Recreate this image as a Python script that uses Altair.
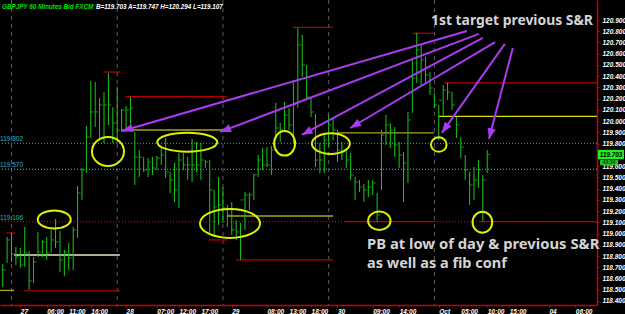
import math
import altair as alt
import pandas as pd

# ---------------- data ----------------
bar_index = list(range(1, 112))
highs = [118.729, 118.969, 119.005, 118.880, 118.872, 119.058, 118.845, 118.791, 119.014, 118.943,
         118.969, 119.032, 119.130, 119.023, 118.854, 118.916, 119.058, 119.423, 119.583, 119.957,
         120.357, 120.348, 120.206, 120.259, 120.429, 120.126, 120.304, 120.108, 120.135, 120.215,
         119.904, 119.743, 119.681, 119.672, 119.681, 119.690, 119.761, 119.850, 119.548, 119.628,
         119.717, 119.717, 119.681, 119.841, 119.815, 119.806, 119.654, 119.654, 119.388, 119.503,
         119.414, 119.254, 119.281, 119.121, 119.094, 119.370, 119.361, 119.530, 119.699, 119.761,
         119.770, 119.779, 120.162, 119.984, 120.171, 120.117, 120.366, 120.829, 120.767, 120.500,
         120.215, 120.064, 119.806, 119.877, 120.055, 120.037, 119.921, 119.815, 119.761, 119.717,
         119.503, 119.477, 119.441, 119.477, 119.477, 119.361, 119.921, 120.055, 119.984, 119.948,
         119.815, 119.726, 120.082, 120.544, 120.784, 120.678, 120.571, 120.437, 120.251, 120.144,
         120.322, 120.340, 120.259, 120.037, 119.859, 119.699, 119.548, 119.592, 119.654, 119.521,
         119.743]
lows = [118.525, 118.738, 118.747, 118.720, 118.694, 118.703, 118.498, 118.560, 118.791, 118.791,
        118.765, 118.827, 118.872, 118.658, 118.622, 118.676, 118.676, 118.960, 119.299, 119.539,
        119.850, 119.948, 119.850, 119.806, 119.966, 119.806, 119.806, 119.904, 119.904, 119.921,
        119.432, 119.503, 119.548, 119.503, 119.521, 119.566, 119.610, 119.494, 119.361, 119.281,
        119.227, 119.566, 119.477, 119.459, 119.548, 119.477, 119.583, 119.005, 118.969, 119.076,
        119.094, 119.058, 118.987, 118.943, 118.765, 119.032, 119.210, 119.299, 119.503, 119.566,
        119.592, 119.521, 119.832, 119.815, 119.921, 119.921, 119.806, 120.117, 120.393, 120.206,
        120.037, 119.592, 119.539, 119.539, 119.770, 119.832, 119.637, 119.654, 119.583, 119.477,
        119.299, 119.370, 119.281, 119.325, 119.343, 119.103, 119.388, 119.788, 119.761, 119.681,
        119.583, 119.281, 119.450, 120.073, 120.340, 120.322, 120.348, 120.233, 120.117, 119.832,
        120.037, 120.188, 120.099, 119.850, 119.672, 119.477, 119.254, 119.299, 119.405, 119.107,
        119.539]
closes = [118.676, 118.943, 118.818, 118.791, 118.720, 118.827, 118.578, 118.747, 118.836, 118.925,
          118.827, 118.943, 118.925, 118.765, 118.836, 118.783, 119.032, 119.361, 119.566, 119.859,
          120.082, 120.082, 120.144, 120.144, 120.144, 119.984, 119.921, 120.099, 120.099, 120.117,
          119.681, 119.681, 119.566, 119.637, 119.583, 119.672, 119.699, 119.548, 119.477, 119.388,
          119.654, 119.610, 119.610, 119.610, 119.610, 119.654, 119.637, 119.388, 119.236, 119.254,
          119.227, 119.165, 119.032, 119.014, 119.299, 119.343, 119.343, 119.521, 119.654, 119.610,
          119.610, 119.743, 119.939, 119.921, 120.055, 119.966, 120.144, 120.678, 120.500, 120.215,
          120.082, 119.654, 119.654, 119.832, 119.966, 119.921, 119.743, 119.726, 119.654, 119.521,
          119.459, 119.414, 119.388, 119.414, 119.450, 119.165, 119.877, 119.966, 119.921, 119.788,
          119.699, 119.628, 120.010, 120.384, 120.633, 120.544, 120.411, 120.295, 120.144, 120.188,
          120.277, 120.259, 120.144, 119.966, 119.770, 119.566, 119.432, 119.477, 119.566, 119.477,
          119.703]

day_starts = [3, 27, 51, 75, 99]

x_tick_values = [5, 11, 16, 21, 29, 36, 41, 46, 53, 61, 66, 71, 77, 85, 91, 100, 105, 111, 116, 125, 131]
x_tick_labels = ["27", "06:00", "11:00", "16:00", "28", "07:00", "12:00", "17:00", "29", "08:00",
                 "13:00", "18:00", "30", "09:00", "14:00", "Oct", "05:00", "10:00", "15:00", "04", "08:00"]

# 119.700 sits under the current-price tag in the reference
y_tick_values = [118.4, 118.5, 118.6, 118.7, 118.8, 118.9, 119.0, 119.1, 119.2, 119.3, 119.4, 119.5, 119.6,
                 119.8, 119.9, 120.0, 120.1, 120.2, 120.3, 120.4, 120.5, 120.6, 120.7, 120.8, 120.9]

level_prices = [119.802, 119.570, 119.106]
level_names = ["green", "cyan", "red"]

seg_start = [0.4, 3.6, 5.8, 1.8, 23.8, 28.8, 28.1, 47.8, 51.9, 54.0, 66.9, 77.1, 94.1, 101.2, 100.0, 78.7, 109.4]
seg_end = [3.6, 27.6, 27.6, 3.8, 27.8, 51.9, 51.7, 51.9, 76.0, 76.0, 76.0, 98.9, 98.9, 135.9, 135.9, 98.9, 135.9]
seg_price = [118.494, 118.809, 118.489, 119.005, 120.437, 120.218, 119.921, 118.943, 119.156, 118.765,
             120.835, 119.895, 120.782, 120.340, 120.042, 119.106, 119.106]
seg_kind = ["yellow", "pale", "red", "red", "red", "red", "yellow", "red", "yellow", "red",
            "red", "yellow", "red", "red", "bright", "red", "red"]

ell_x = [24.9, 12.7, 42.9, 52.6, 65.0, 75.5, 100.0, 86.5, 109.9]
ell_p = [119.730, 119.125, 119.813, 119.090, 119.803, 119.800, 119.792, 119.114, 119.101]
ell_rx = [16, 16.5, 30, 30, 10.5, 19, 7.8, 11.2, 9.8]
ell_ry = [14.5, 9, 9.5, 14.5, 12.3, 10.3, 7.2, 9.2, 10.5]

arr_x0 = [106.4, 109.1, 110.0, 112.8, 115.0, 116.8]
arr_p0 = [120.802, 120.776, 120.740, 120.704, 120.687, 120.651]
arr_x1 = [28.1, 50.4, 68.9, 79.9, 100.7, 111.4]
arr_p1 = [119.913, 119.904, 119.877, 119.939, 119.895, 119.841]

last_price = "119.703"
timer = "43:34"

# ---------------- layout ----------------
W, H = 597, 305
X_DOM = [0.387, 135.92]
Y_DOM = [118.364, 121.078]
px_x = W / (X_DOM[1] - X_DOM[0])
px_y = H / (Y_DOM[1] - Y_DOM[0])

FONT = "Liberation Sans"
RED = "#c80000"
xs = alt.Scale(domain=X_DOM, nice=False, zero=False)
ys = alt.Scale(domain=Y_DOM, nice=False, zero=False)

label_expr = "[" + ",".join("'%s'" % s for s in x_tick_labels) + "][indexof([" + \
    ",".join(str(v) for v in x_tick_values) + "], datum.value)]"

x_axis = alt.Axis(values=x_tick_values, labelExpr=label_expr, labelAlign="left", labelBaseline="top",
                  labelPadding=1, tickSize=2, tickColor=RED, domainColor=RED, domainWidth=1.5,
                  labelColor="white", labelFont=FONT, labelFontSize=6.5, labelFontStyle="italic",
                  labelFontWeight="bold", labelOverlap=False, labelBound=False, labelFlush=False,
                  grid=False, title=None)
y_axis = alt.Axis(orient="right", values=y_tick_values, format=".3f", tickSize=2, tickColor=RED,
                  domainColor=RED, domainWidth=1.5, labelColor="white", labelFont=FONT,
                  labelFontSize=6.5, labelFontStyle="italic", labelFontWeight="bold",
                  labelPadding=3, labelOverlap=False, labelBound=False, grid=False, title=None)


def X(f):
    return alt.X(f, scale=xs, axis=x_axis)


def Y(f):
    return alt.Y(f, scale=ys, axis=y_axis)


bars = pd.DataFrame({"i": bar_index, "h": highs, "l": lows, "c": closes})
base = alt.Chart(bars)

# day separators
seps = alt.Chart(pd.DataFrame({"i": day_starts})).mark_rule(
    color="#5c5c5c", strokeDash=[4, 4], strokeWidth=1).encode(x=X("i:Q"))

# full width dotted levels
lv = pd.DataFrame({"p": level_prices, "k": level_names})
LEVEL_COL = {"green": "#23a040", "cyan": "#1aa6b4", "red": "#d00000"}
levels = [alt.Chart(lv[lv.k == k]).mark_rule(strokeDash=[1, 2], strokeWidth=1.2, color=LEVEL_COL[k]).encode(
    y=Y("p:Q")) for k in level_names]
level_labels = alt.Chart(lv).mark_text(align="left", baseline="bottom", dy=-1, font=FONT,
                                        fontSize=6.5, color="#2ab4d0").encode(
    x=alt.value(0), y=Y("p:Q"), text=alt.Text("p:Q", format=".3f"))

# support / resistance segments
sg = pd.DataFrame({"a": seg_start, "b": seg_end, "p": seg_price, "k": seg_kind})
SEG_COL = {"red": "#b40000", "yellow": "#a6a61e", "pale": "#e8e8c8", "bright": "#e0e000"}
segs = [alt.Chart(sg[sg.k == k]).mark_rule(strokeWidth=1.3, color=c).encode(
    x=X("a:Q"), x2="b:Q", y=Y("p:Q")) for k, c in SEG_COL.items()]

# HLC bars
hl = base.mark_rule(color="#18c818", strokeWidth=1).encode(x=X("i:Q"), y=Y("l:Q"), y2="h:Q")
cl = base.mark_tick(color="#18c818", orient="horizontal", size=3, thickness=1, xOffset=1.5).encode(
    x=X("i:Q"), y=Y("c:Q"))


# ellipses
def ell_path(k):
    c = 0.5523
    return ("M 1 0 C 1 {a} {c} {k} 0 {k} C -{c} {k} -1 {a} -1 0 "
            "C -1 -{a} -{c} -{k} 0 -{k} C {c} -{k} 1 -{a} 1 0 Z").format(a=round(c * k, 4), c=c, k=round(k, 4))


el = pd.DataFrame({"i": ell_x, "p": ell_p,
                   "shape": [ell_path(ry / rx) for rx, ry in zip(ell_rx, ell_ry)],
                   "sz": [(2 * rx) ** 2 for rx in ell_rx]})
ells = alt.Chart(el).mark_point(filled=False, color="#dcf000", strokeWidth=2, opacity=1).encode(
    x=X("i:Q"), y=Y("p:Q"),
    shape=alt.Shape("shape:N", scale=None), size=alt.Size("sz:Q", scale=None))

# arrows
angles = []
for a0, p0, a1, p1 in zip(arr_x0, arr_p0, arr_x1, arr_p1):
    dx = (a1 - a0) * px_x
    dy = -(p1 - p0) * px_y
    angles.append(math.degrees(math.atan2(dx, -dy)) % 360)
ar = pd.DataFrame({"a0": arr_x0, "p0": arr_p0, "a1": arr_x1, "p1": arr_p1, "ang": angles})
PURPLE = "#a93cf0"
arrow_lines = alt.Chart(ar).mark_rule(color=PURPLE, strokeWidth=2).encode(
    x=X("a0:Q"), x2="a1:Q", y=Y("p0:Q"), y2="p1:Q")
arrow_heads = alt.Chart(ar).mark_point(filled=True, color=PURPLE, opacity=1, size=144,
                                       shape="M 0 0 L 0.7 1.8 L -0.7 1.8 Z").encode(
    x=X("a1:Q"), y=Y("p1:Q"), angle=alt.Angle("ang:Q", scale=None))

# header and notes
one = pd.DataFrame({"t": [0]})
HDR = dict(align="left", baseline="alphabetic", font=FONT, fontSize=6.3, fontStyle="italic",
           fontWeight="bold")
hdr1 = alt.Chart(one).mark_text(color="#00e000", text="GBPJPY 60 Minutes Bid FXCM", **HDR).encode(
    x=alt.value(2), y=alt.value(8.5))
hdr2 = alt.Chart(one).mark_text(color="white", text="B=119.703  A=119.747  H=120.294  L=119.107",
                                **HDR).encode(x=alt.value(96), y=alt.value(8.5))
NOTE = dict(align="left", baseline="alphabetic", font="Noto Sans", fontWeight="bold", color="#d4d4d4")
note1 = alt.Chart(one).mark_text(text="1st target previous S&R", fontSize=13.9, **NOTE).encode(
    x=alt.value(431), y=alt.value(25))
note2 = alt.Chart(one).mark_text(text="PB at low of day & previous S&R", fontSize=14.8, **NOTE).encode(
    x=alt.value(367), y=alt.value(249))
note3 = alt.Chart(one).mark_text(text="as well as a fib conf", fontSize=14.5, **NOTE).encode(
    x=alt.value(367), y=alt.value(268))

# current price tag
tag = pd.DataFrame({"p": [float(last_price)], "t": [last_price], "tm": [timer]})
tag_box = alt.Chart(tag).mark_point(filled=True, color="#20f020", opacity=1, size=676,
                                    shape="M -1 -0.36 L 1 -0.36 L 1 0.36 L -1 0.36 Z").encode(
    x=alt.value(611), y=Y("p:Q"))
tag_txt = alt.Chart(tag).mark_text(font=FONT, fontSize=6.3, fontStyle="italic", fontWeight="bold",
                                   color="black").encode(
    x=alt.value(611), y=Y("p:Q"), text="t:N")
tm_box = alt.Chart(tag).mark_point(filled=True, color="#20c020", opacity=1, size=324, yOffset=8,
                                   shape="M -1 -0.3 L 1 -0.3 L 1 0.3 L -1 0.3 Z").encode(
    x=alt.value(609), y=Y("p:Q"))
tm_txt = alt.Chart(tag).mark_text(font=FONT, fontSize=4.8, fontStyle="italic", fontWeight="bold",
                                  color="#003300", dy=8).encode(
    x=alt.value(609), y=Y("p:Q"), text="tm:N")

chart = alt.layer(
    seps, *levels, level_labels, *segs, hl, cl, ells, arrow_lines, arrow_heads,
    hdr1, hdr2, note1, note2, note3, tag_box, tag_txt, tm_box, tm_txt
).properties(
    width=W, height=H,
    padding={"left": 0, "top": 0, "right": 28, "bottom": 9},
    autosize=alt.AutoSizeParams(type="none"),
).configure(background="black").configure_view(stroke=None)

chart.save("out.html", embed_options={"renderer": "svg", "actions": False})
